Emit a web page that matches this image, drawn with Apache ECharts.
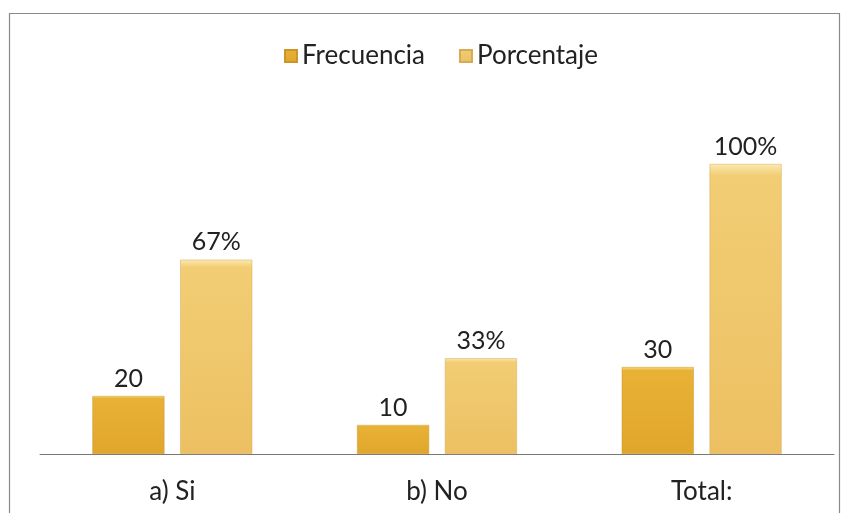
<!DOCTYPE html>
<html><head><meta charset="utf-8">
<script src="https://cdn.jsdelivr.net/npm/echarts@6/dist/echarts.min.js"></script>
<style>html,body{margin:0;padding:0;background:#fff}#c{width:848px;height:513px}</style>
</head><body><div id="c"></div>
<script>
const categories = ['a) Si', 'b) No', 'Total:'];
const frecuencia = [20, 10, 30];
const porcentaje = [67, 33, 100];
const seriesNames = ['Frecuencia', 'Porcentaje'];

const font = 'Lato, "Open Sans", sans-serif';
function grad(top, mid, bot) {
  return new echarts.graphic.LinearGradient(0, 0, 0, 1, [
    {offset: 0, color: top}, {offset: 0.04, color: mid}, {offset: 1, color: bot}
  ]);
}
const chart = echarts.init(document.getElementById('c'), null, {renderer: 'canvas'});
chart.setOption({
  animation: false,
  backgroundColor: '#fff',
  graphic: [{type: 'rect', shape: {x: 9.5, y: 13.5, width: 830, height: 520}, style: {fill: 'none', stroke: '#8a8a8a', lineWidth: 1.2}, z: -1}],
  legend: {
    top: 38, left: 279, itemWidth: 12, itemHeight: 12, itemGap: 34, icon: 'rect',
    textStyle: {fontFamily: font, fontSize: 26, color: '#222'},
    data: seriesNames
  },
  grid: {left: 40, right: 14, top: 164, bottom: 59},
  xAxis: {
    type: 'category', data: categories,
    axisLine: {lineStyle: {color: '#777', width: 1}},
    axisTick: {show: false},
    axisLabel: {fontFamily: font, fontSize: 26, color: '#222', margin: 25}
  },
  yAxis: {type: 'value', min: 0, max: 100, show: false, splitLine: {show: false}},
  series: [
    {
      name: seriesNames[0], type: 'bar', data: frecuencia, barWidth: 72, barGap: '22%',
      itemStyle: {color: grad('#f7dc8a', '#e8b236', '#e0a62b'), borderColor: '#c9962a', borderWidth: 0.5},
      label: {show: true, position: 'top', distance: 5, fontFamily: font, fontSize: 25, color: '#222'}
    },
    {
      name: seriesNames[1], type: 'bar', data: porcentaje, barWidth: 72,
      itemStyle: {color: grad('#fbeab0', '#f2cd74', '#ecc062'), borderColor: '#d4ac58', borderWidth: 0.5},
      label: {show: true, position: 'top', distance: 5, fontFamily: font, fontSize: 25, color: '#222', formatter: p => p.value + '%'}
    }
  ]
});
</script></body></html>
